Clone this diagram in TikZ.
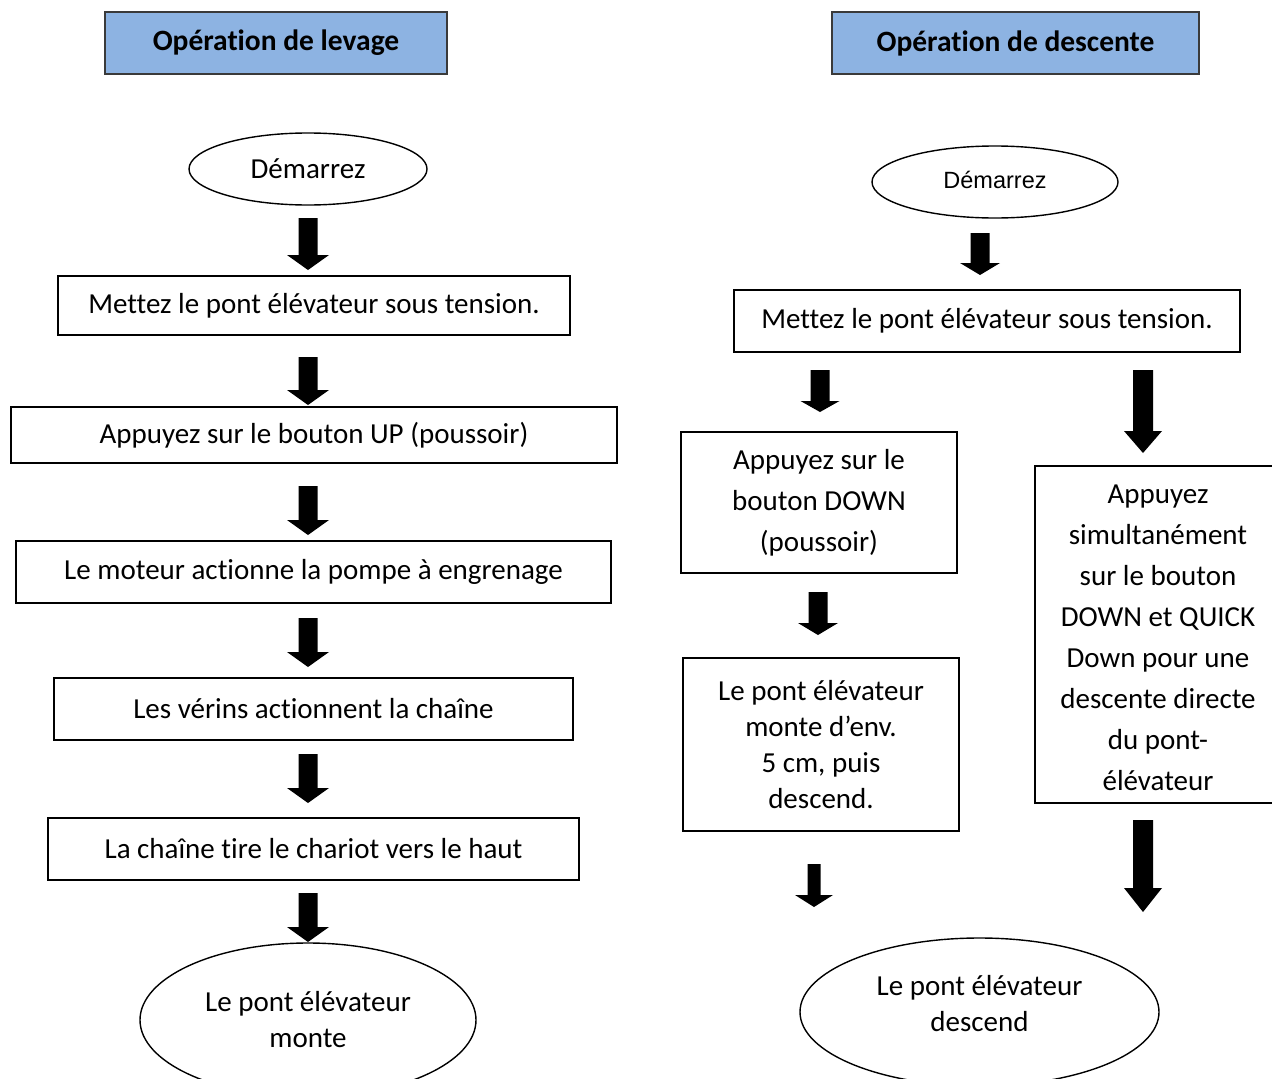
\documentclass[tikz,border=0pt]{standalone}
\usepackage{fontspec}
\usetikzlibrary{shapes.geometric}
\setmainfont{Carlito}[Ligatures=NoCommon]
\newfontfamily\arialfont{Liberation Sans}
\definecolor{titleblue}{HTML}{8DB3E2}
\definecolor{titleedge}{HTML}{3A3A3A}
\newcommand{\blockarrow}[6]{%
  \fill[black] (#1-#4/2,#2) -- (#1+#4/2,#2) -- (#1+#4/2,#3-#6) -- (#1+#5/2,#3-#6)
    -- (#1,#3) -- (#1-#5/2,#3-#6) -- (#1-#4/2,#3-#6) -- cycle;}
\newcommand{\liftup}[2]{\raisebox{#1}[\height][\depth]{\begin{tabular}{@{}c@{}}#2\end{tabular}}}
\begin{document}
\begin{tikzpicture}[x=1pt,y=-1pt,
  titlebox/.style={draw=titleedge,fill=titleblue,line width=2pt,inner sep=0pt,
     minimum height=62pt,font=\fontsize{29.5}{34}\selectfont\bfseries},
  stepbox/.style={draw=black,line width=1.4pt,inner sep=0pt,align=center,
     font=\fontsize{29}{41}\selectfont},
  ellbox/.style={draw=black,line width=1.4pt,ellipse,inner sep=0pt,align=center,
     font=\fontsize{29}{36}\selectfont}]
\useasboundingbox (0,0) rectangle (1272,1079);
\clip (0,0) rectangle (1272,1079);
% ---------- left column ----------
\node[titlebox,minimum width=342pt] (t1) at (276,43) {Opération de levage};
\node[ellbox,minimum width=238pt,minimum height=72pt] (l0) at (308,169) {Démarrez};
\node[stepbox,minimum width=512pt,minimum height=59pt] (l1) at (314,305.5) {Mettez le pont élévateur sous tension.};
\node[stepbox,minimum width=606pt,minimum height=56pt] (l2) at (314,435) {Appuyez sur le bouton UP (poussoir)};
\node[stepbox,minimum width=595pt,minimum height=62pt] (l3) at (313.5,572) {Le moteur actionne la pompe à engrenage};
\node[stepbox,minimum width=519pt,minimum height=62pt] (l4) at (313.5,709) {Les vérins actionnent la chaîne};
\node[stepbox,minimum width=531pt,minimum height=62pt] (l5) at (313.5,849) {La chaîne tire le chariot vers le haut};
\node[ellbox,minimum width=336pt,minimum height=154pt] (l6) at (308,1020) {Le pont élévateur\\monte};
\blockarrow{308}{218}{270}{19}{42}{15}
\blockarrow{308}{357}{405}{19}{42}{15}
\blockarrow{308}{486}{535}{19}{42}{15}
\blockarrow{308}{618}{667}{19}{42}{15}
\blockarrow{308}{754}{803}{19}{42}{15}
\blockarrow{308}{893}{942}{19}{42}{15}
% ---------- right column ----------
\node[titlebox,minimum width=367pt] (t2) at (1015.5,43) {Opération de descente};
\node[ellbox,minimum width=246pt,minimum height=72pt,font=\arialfont\fontsize{23.5}{28}\selectfont] (r0) at (995,182) {\raisebox{2pt}[\height][\depth]{Démarrez}};
\node[stepbox,minimum width=506pt,minimum height=62pt] (r1) at (987,321) {Mettez le pont élévateur sous tension.};
\node[stepbox,minimum width=276pt,minimum height=141pt] (r2) at (819,502.5) {Appuyez sur le\\bouton DOWN\\(poussoir)};
\node[stepbox,minimum width=246pt,minimum height=337pt] (r3) at (1158,634.5) {\liftup{-4pt}{Appuyez\\simultanément\\sur le bouton\\DOWN et QUICK\\Down pour une\\descente directe\\du pont-\\élévateur}};
\node[stepbox,minimum width=276pt,minimum height=173pt,font=\fontsize{29}{36}\selectfont] (r4) at (821,744.5) {Le pont élévateur\\monte d’env.\\5 cm, puis\\descend.};
\node[ellbox,minimum width=359pt,minimum height=148pt] (r5) at (979.5,1012) {\liftup{6pt}{Le pont élévateur\\descend}};
\blockarrow{980}{233}{275}{19}{40}{12}
\blockarrow{820}{370}{412}{19}{39}{11}
\blockarrow{1143}{370}{453}{20}{38}{22}
\blockarrow{818}{592}{635}{19}{40}{12}
\blockarrow{814}{864}{907}{13}{38}{12}
\blockarrow{1143}{820}{912}{20}{38}{24}
\end{tikzpicture}
\end{document}
